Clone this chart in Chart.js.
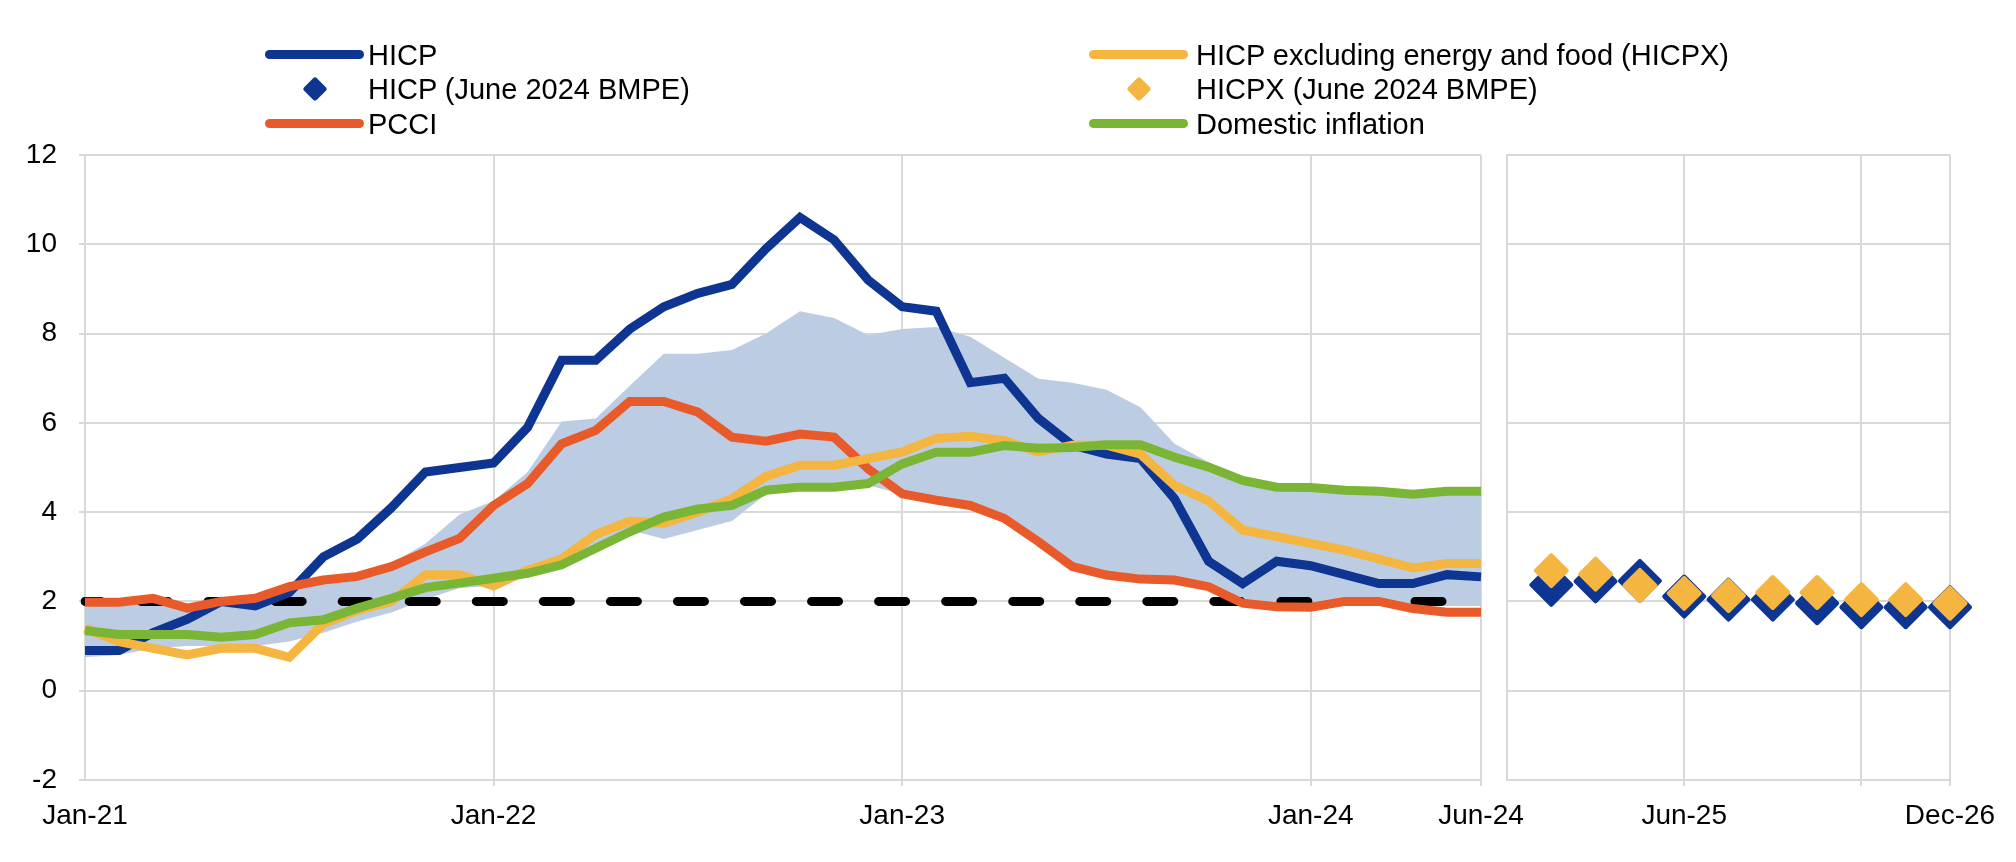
<!DOCTYPE html>
<html><head><meta charset="utf-8">
<script src="https://cdn.jsdelivr.net/npm/chart.js@4.4.1/dist/chart.umd.min.js"></script>
<style>
html,body{margin:0;padding:0;background:#fff;}
#wrap{position:relative;width:2016px;height:862px;overflow:hidden;font-family:'Liberation Sans',Arial,sans-serif;background:#fff;}
canvas{position:absolute;left:0;top:0;}
.lg{position:absolute;font-size:29px;color:#000;line-height:34px;white-space:nowrap;}
.sw{position:absolute;height:9px;border-radius:5px;}
.dm{position:absolute;width:18px;height:18px;transform:rotate(45deg);border-radius:3px;}
</style></head><body>
<div id="wrap">
<canvas id="left" width="2016" height="862"></canvas>
<canvas id="right" width="2016" height="862"></canvas>
<div id="legend"></div>
</div>
<script>
// ---------- data ----------
const months = ['Jan-21','Feb-21','Mar-21','Apr-21','May-21','Jun-21','Jul-21','Aug-21','Sep-21','Oct-21','Nov-21','Dec-21',
  'Jan-22','Feb-22','Mar-22','Apr-22','May-22','Jun-22','Jul-22','Aug-22','Sep-22','Oct-22','Nov-22','Dec-22',
  'Jan-23','Feb-23','Mar-23','Apr-23','May-23','Jun-23','Jul-23','Aug-23','Sep-23','Oct-23','Nov-23','Dec-23',
  'Jan-24','Feb-24','Mar-24','Apr-24','May-24','Jun-24'];
const monthTicksShown = ['Jan-21','Jan-22','Jan-23','Jan-24','Jun-24'];

const hicp = [0.9,0.9,1.3,1.6,2.0,1.9,2.2,3.0,3.4,4.1,4.9,5.0,
  5.1,5.9,7.4,7.4,8.1,8.6,8.9,9.1,9.9,10.6,10.1,9.2,
  8.6,8.5,6.9,7.0,6.1,5.5,5.3,5.2,4.3,2.9,2.4,2.9,
  2.8,2.6,2.4,2.4,2.6,2.55];
const hicpx = [1.4,1.1,0.95,0.8,0.95,0.95,0.75,1.5,1.8,2.0,2.6,2.6,
  2.35,2.7,2.95,3.5,3.8,3.75,4.0,4.3,4.8,5.05,5.05,5.2,
  5.35,5.65,5.7,5.6,5.35,5.5,5.5,5.3,4.6,4.25,3.6,3.45,
  3.3,3.15,2.95,2.75,2.85,2.85];
const pcci = [1.98,1.98,2.07,1.85,2.0,2.07,2.33,2.48,2.56,2.78,3.11,3.41,
  4.15,4.64,5.53,5.83,6.48,6.48,6.24,5.68,5.59,5.75,5.68,4.97,
  4.41,4.27,4.15,3.86,3.34,2.78,2.59,2.5,2.48,2.33,1.96,1.88,
  1.87,2.0,2.0,1.84,1.76,1.76];
const domestic = [1.35,1.26,1.26,1.26,1.2,1.26,1.52,1.59,1.85,2.07,2.31,2.41,
  2.52,2.63,2.82,3.19,3.56,3.89,4.07,4.15,4.49,4.56,4.56,4.64,
  5.08,5.34,5.34,5.49,5.43,5.45,5.51,5.51,5.23,5.01,4.71,4.56,
  4.55,4.49,4.47,4.4,4.47,4.47];
const rangeLow = [0.75,0.8,0.95,1.0,1.0,1.0,1.1,1.3,1.55,1.75,2.05,2.3,
  2.35,2.55,2.75,3.1,3.6,3.4,3.6,3.8,4.4,4.5,4.55,4.6,
  4.4,4.25,4.1,3.8,3.3,2.75,2.55,2.45,2.45,2.3,2.0,1.95,
  1.95,1.95,1.95,1.9,1.9,1.9];
const rangeHigh = [1.95,1.95,2.05,1.9,2.0,2.05,2.3,2.45,2.6,2.85,3.3,3.95,
  4.25,4.9,6.03,6.1,6.83,7.55,7.55,7.63,8.0,8.5,8.35,7.97,
  8.1,8.15,7.93,7.46,6.99,6.9,6.74,6.35,5.53,5.12,4.75,4.58,
  4.56,4.5,4.48,4.42,4.48,4.48];
const target = [2,2,2,2,2,2,2,2,2,2,2,2, 2,2,2,2,2,2,2,2,2,2,2,2, 2,2,2,2,2,2,2,2,2,2,2,2, 2,2,2,2,2,2];

const quarters = ['Jun-24','Sep-24','Dec-24','Mar-25','Jun-25','Sep-25','Dec-25','Mar-26','Jun-26','Sep-26','Dec-26'];
const quarterTicksShown = ['Jun-25','Dec-26'];
const quarterGrid = ['Jun-25','Jun-26','Dec-26'];
const hicpProj  = [null,2.37,2.45,2.46,2.11,2.04,2.04,1.96,1.87,1.87,1.87];
const hicpxProj = [null,2.69,2.61,2.36,2.18,2.13,2.20,2.20,2.04,2.04,1.96];

const yTicks = [-2,0,2,4,6,8,10,12];

// ---------- styles ----------
const BLUE = '#0e3592', ORANGE = '#e95a2b', YELLOW = '#f4b541', GREEN = '#7ab536', BAND = '#bccde3', GRID = '#d9d9d9';
const FONT = {family:"'Liberation Sans', Arial, sans-serif", size:28};

// ---------- legend (HTML) ----------
const legendItems = [
  {label:'HICP', color:BLUE, kind:'line', col:0, row:0},
  {label:'HICP (June 2024 BMPE)', color:BLUE, kind:'diamond', col:0, row:1},
  {label:'PCCI', color:ORANGE, kind:'line', col:0, row:2},
  {label:'HICP excluding energy and food (HICPX)', color:YELLOW, kind:'line', col:1, row:0},
  {label:'HICPX (June 2024 BMPE)', color:YELLOW, kind:'diamond', col:1, row:1},
  {label:'Domestic inflation', color:GREEN, kind:'line', col:1, row:2}
];
const colSw = [265, 1089], colTx = [368, 1196], rowY = [54.5, 89, 123.5];
const lg = document.getElementById('legend');
legendItems.forEach(it => {
  const cy = rowY[it.row];
  if (it.kind === 'line') {
    const d = document.createElement('div'); d.className = 'sw';
    d.style.left = colSw[it.col] + 'px'; d.style.width = '99px'; d.style.top = (cy - 4.5) + 'px';
    d.style.background = it.color; lg.appendChild(d);
  } else {
    const d = document.createElement('div'); d.className = 'dm';
    d.style.left = (colSw[it.col] + 49.5 - 9) + 'px'; d.style.top = (cy - 9) + 'px';
    d.style.background = it.color; lg.appendChild(d);
  }
  const t = document.createElement('div'); t.className = 'lg';
  t.textContent = it.label; t.style.left = colTx[it.col] + 'px'; t.style.top = (cy - 17) + 'px';
  lg.appendChild(t);
});

// ---------- left panel ----------
const lineDs = (label, data, color, order) => ({label, data, borderColor:color, backgroundColor:color, borderWidth:9, pointRadius:0, fill:false, order, tension:0});
new Chart(document.getElementById('left'), {
  type:'line',
  data:{labels:months, datasets:[
    lineDs('Domestic inflation', domestic, GREEN, 1),
    lineDs('HICP excluding energy and food (HICPX)', hicpx, YELLOW, 2),
    lineDs('PCCI', pcci, ORANGE, 3),
    lineDs('HICP', hicp, BLUE, 4),
    {label:'2% target', data:target, borderColor:'#000', borderWidth:9, borderDash:[27,40.05], borderDashOffset:11, borderCapStyle:'round', pointRadius:0, fill:false, order:5},
    {label:'range high', data:rangeHigh, borderWidth:0, borderColor:BAND, backgroundColor:BAND, pointRadius:0, fill:'+1', order:6},
    {label:'range low', data:rangeLow, borderWidth:0, borderColor:BAND, backgroundColor:BAND, pointRadius:0, fill:false, order:7}
  ]},
  options:{
    responsive:false, animation:false, devicePixelRatio:1,
    layout:{padding:{left:0, right:535, top:155, bottom:0}},
    plugins:{legend:{display:false}, tooltip:{enabled:false}},
    scales:{
      x:{type:'category', offset:false,
        grid:{color:c => (c.tick && monthTicksShown.includes(months[c.index]) && c.index>0) ? GRID : 'rgba(0,0,0,0)', lineWidth:2, tickLength:6},
        border:{color:GRID, width:2},
        ticks:{autoSkip:false, maxRotation:0, minRotation:0, padding:13, color:'#000', font:FONT,
          callback:(v,i) => monthTicksShown.includes(months[i]) ? months[i] : ''},
        afterFit:s => { s.height = 82; }},
      y:{min:yTicks[0], max:yTicks[yTicks.length-1],
        afterBuildTicks:s => { s.ticks = yTicks.map(v => ({value:v})); },
        ticks:{padding:22, color:'#000', font:FONT},
        grid:{color:GRID, lineWidth:2, tickLength:6},
        border:{color:GRID, width:2},
        afterFit:s => { s.width = 85; }}
    }
  }
});

// ---------- right panel ----------
const roundJoin = {id:'roundJoin', beforeDatasetDraw(chart){ chart.ctx.lineJoin = 'round'; }};
new Chart(document.getElementById('right'), {
  type:'line',
  data:{labels:quarters, datasets:[
    {label:'HICPX (June 2024 BMPE)', data:hicpxProj, showLine:false, pointStyle:'rectRot', pointRadius:15.5, pointBorderWidth:4,
      pointBackgroundColor:YELLOW, pointBorderColor:YELLOW, borderColor:YELLOW, backgroundColor:YELLOW, order:1, clip:false},
    {label:'HICP (June 2024 BMPE)', data:hicpProj, showLine:false, pointStyle:'rectRot', pointRadius:20, pointBorderWidth:4,
      pointBackgroundColor:BLUE, pointBorderColor:BLUE, borderColor:BLUE, backgroundColor:BLUE, order:2, clip:false}
  ]},
  options:{
    responsive:false, animation:false, devicePixelRatio:1,
    layout:{padding:{left:1507, right:66, top:155, bottom:0}},
    plugins:{legend:{display:false}, tooltip:{enabled:false}},
    scales:{
      x:{type:'category', offset:false,
        grid:{color:c => (c.tick && quarterGrid.includes(quarters[c.index])) ? GRID : 'rgba(0,0,0,0)', lineWidth:2, tickLength:6},
        border:{color:GRID, width:2},
        ticks:{autoSkip:false, maxRotation:0, minRotation:0, padding:13, color:'#000', font:FONT,
          callback:(v,i) => quarterTicksShown.includes(quarters[i]) ? quarters[i] : ''},
        afterFit:s => { s.height = 82; }},
      y:{min:yTicks[0], max:yTicks[yTicks.length-1],
        afterBuildTicks:s => { s.ticks = yTicks.map(v => ({value:v})); },
        ticks:{display:false},
        grid:{color:GRID, lineWidth:2, drawTicks:false},
        border:{color:GRID, width:2},
        afterFit:s => { s.width = 0; }}
    }
  },
  plugins:[roundJoin]
});
</script>
</body></html>
